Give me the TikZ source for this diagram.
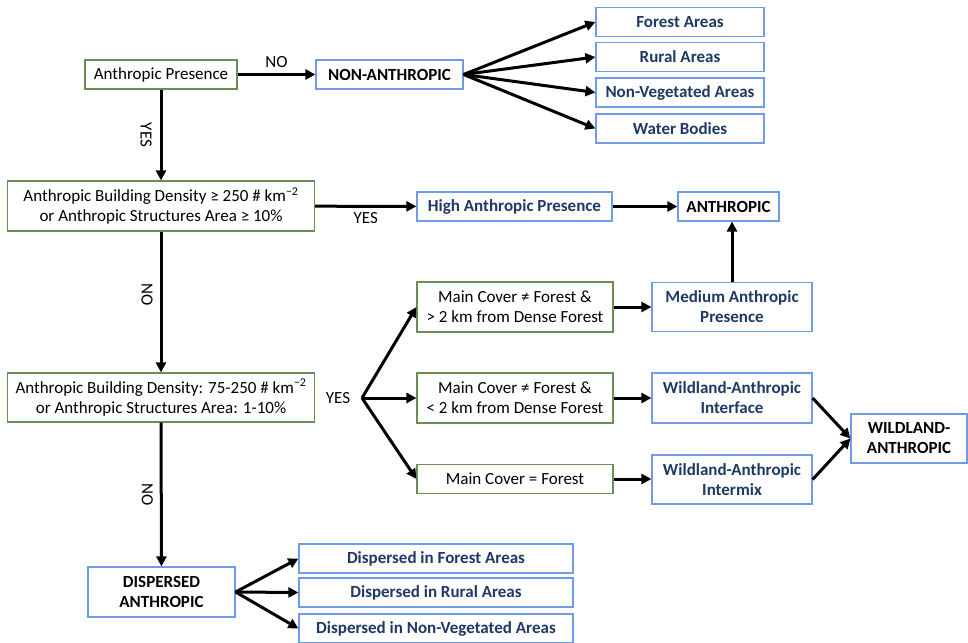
\documentclass[tikz,border=0pt]{standalone}
\usepackage{fontspec}
\setmainfont{Carlito}
\usetikzlibrary{arrows.meta}
\definecolor{testgreen}{HTML}{6A8F50}
\definecolor{classblue}{HTML}{6F9CE6}
\definecolor{classnavy}{HTML}{1F3864}

\begin{document}
\begin{tikzpicture}[x=1pt,y=-1pt,
  font=\fontsize{17}{20}\selectfont,
  test/.style={draw=testgreen,line width=1.2pt,align=center,inner sep=0pt,minimum height=29pt},
  cls/.style={draw=classblue,line width=1.2pt,align=center,inner sep=0pt,minimum height=29pt,
    font=\fontsize{17}{20}\selectfont\bfseries,text=classnavy},
  final/.style={cls,text=black},
  arr/.style={-{Triangle[length=10pt,width=10pt]},line width=3pt},
  lab/.style={rotate=-90}]
\useasboundingbox (0,0) rectangle (968,642);

% decisions
\node[test,minimum width=152pt] (pres) at (161,74.5) {Anthropic Presence};
\node[test,minimum width=307pt,minimum height=50pt] (dens1) at (161,206)
  {Anthropic Building Density ≥ 250 \# km\textsuperscript{−2}\\or Anthropic Structures Area ≥ 10\%};
\node[test,minimum width=307pt,minimum height=49pt] (dens2) at (161,397.5)
  {Anthropic Building Density: 75-250 \# km\textsuperscript{−2}\\or Anthropic Structures Area: 1-10\%};
\node[test,minimum width=196pt,minimum height=50pt] (cond1) at (515,307)
  {Main Cover ≠ Forest \&\\> 2 km from Dense Forest};
\node[test,minimum width=196pt,minimum height=50pt] (cond2) at (515,398)
  {Main Cover ≠ Forest \&\\< 2 km from Dense Forest};
\node[test,minimum width=196pt] (cond3) at (515,479) {Main Cover = Forest};

% classes
\node[final,minimum width=147pt] (nonanth) at (389.5,74.5) {NON-ANTHROPIC};
\node[cls,minimum width=168pt] (forest) at (680,22) {Forest Areas};
\node[cls,minimum width=168pt] (rural) at (680,57) {Rural Areas};
\node[cls,minimum width=168pt] (nonveg) at (680,92.5) {Non-Vegetated Areas};
\node[cls,minimum width=168pt] (water) at (680,128.5) {Water Bodies};
\node[cls,minimum width=195pt] (high) at (514.5,206.5) {High Anthropic Presence};
\node[final,minimum width=101pt] (anth) at (728.5,206.5) {ANTHROPIC};
\node[cls,minimum width=160pt,minimum height=49pt] (medium) at (732,307) {Medium Anthropic\\Presence};
\node[cls,minimum width=160pt,minimum height=50pt] (wai) at (732,398) {Wildland-Anthropic\\Interface};
\node[cls,minimum width=160pt,minimum height=49pt] (wam) at (732,479.5) {Wildland-Anthropic\\Intermix};
\node[final,minimum width=116pt,minimum height=49pt] (wild) at (909,438.5) {WILDLAND-\\ANTHROPIC};
\node[final,minimum width=147pt,minimum height=50pt] (disp) at (161.5,592) {DISPERSED\\ANTHROPIC};
\node[cls,minimum width=274pt] (dforest) at (436,558.5) {Dispersed in Forest Areas};
\node[cls,minimum width=274pt] (drural) at (436,592.5) {Dispersed in Rural Areas};
\node[cls,minimum width=274pt] (dnonveg) at (436,628.5) {Dispersed in Non-Vegetated Areas};

\node (yesbr) at (338,398) {YES};
\coordinate (br) at (362,398);

\path[arr]
  (pres) edge node[above,yshift=2pt] {NO} (nonanth)
  (pres) edge node[xshift=-15pt,lab] {YES} (dens1)
  (nonanth.east) edge (forest.west)
  (nonanth.east) edge (rural.west)
  (nonanth.east) edge (nonveg.west)
  (nonanth.east) edge (water.west)
  (dens1) edge node[below,yshift=-1pt] {YES} (high)
  (high) edge (anth)
  (medium.north) edge (medium.north |- anth.south)
  (dens1) edge node[pos=0.45,xshift=-14pt,lab] {NO} (dens2)
  (br) edge (cond1.west)
  (br) edge (cond2.west)
  (br) edge (cond3.west)
  (cond1) edge (medium)
  (cond2) edge (wai)
  (cond3.east) edge (cond3.east -| wam.west)
  (wai.east) edge (wild.west)
  (wam.east) edge (wild.west)
  (dens2) edge node[xshift=-14pt,lab] {NO} (disp)
  (disp.east) edge (dforest.west)
  (disp.east) edge (drural.west)
  (disp.east) edge (dnonveg.west);
\end{tikzpicture}
\end{document}
